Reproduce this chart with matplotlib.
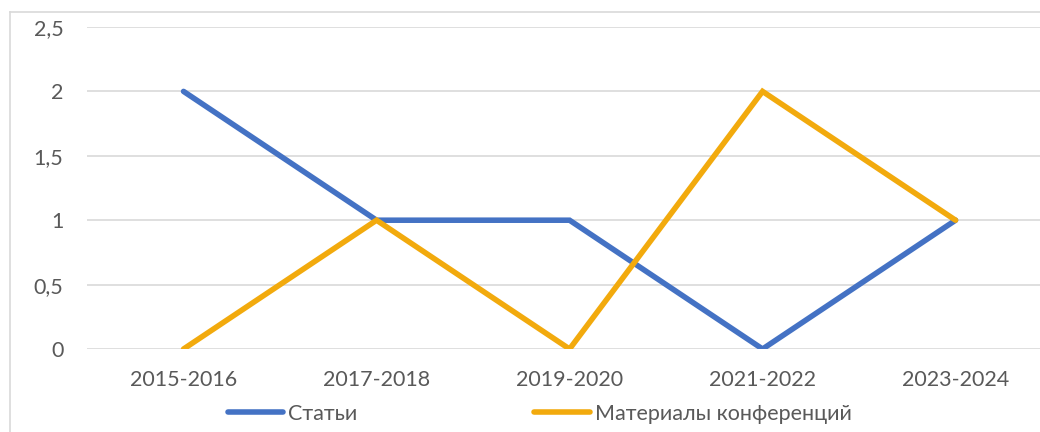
import numpy as np
import matplotlib
matplotlib.use('Agg')
import matplotlib.pyplot as plt
from matplotlib.lines import Line2D
from matplotlib.ticker import FuncFormatter

periods = ['2015-2016', '2017-2018', '2019-2020', '2021-2022', '2023-2024']
articles = [2, 1, 1, 0, 1]
conference = [0, 1, 0, 2, 1]
yticks = [0, 0.5, 1, 1.5, 2, 2.5]

plt.rcParams['font.family'] = ['Lato', 'DejaVu Sans']

fig = plt.figure(figsize=(10.4, 4.32), dpi=100)
ax = fig.add_axes([0.0837, 0.1921, 0.9279, 0.7454])

x = np.arange(len(periods))
ax.plot(x, articles, color='#4472C4', linewidth=4, label='Статьи',
        solid_capstyle='round', solid_joinstyle='miter', zorder=3)
ax.plot(x, conference, color='#F2AA0D', linewidth=4, label='Материалы конференций',
        solid_capstyle='round', solid_joinstyle='miter', zorder=3)

ax.set_xlim(-0.5, len(periods) - 0.5)
ax.set_ylim(0, 2.5)
ax.set_yticks(yticks)
ax.yaxis.set_major_formatter(FuncFormatter(lambda v, p: f'{v:g}'.replace('.', ',')))
ax.set_xticks(x)
ax.set_xticklabels(periods)
ax.grid(axis='y', color='#d9d9d9', linewidth=1.2)
ax.set_axisbelow(True)
for s in ax.spines.values():
    s.set_visible(False)
ax.tick_params(length=0, labelsize=15.5, colors='#595959')
ax.tick_params(axis='y', pad=17)
ax.tick_params(axis='x', pad=15)

# chart area border (left and top edges visible)
fig.add_artist(Line2D([10 / 1040, 10 / 1040], [0, 1 - 12 / 432], transform=fig.transFigure,
                      color='#d9d9d9', linewidth=1.2))
fig.add_artist(Line2D([10 / 1040, 1], [1 - 12 / 432, 1 - 12 / 432], transform=fig.transFigure,
                      color='#d9d9d9', linewidth=1.2))

leg = fig.legend(loc='center', bbox_to_anchor=(0.519, 0.042), ncol=2, frameon=False,
                 fontsize=15.5, handlelength=2.6, handletextpad=0.23, columnspacing=8.2,
                 labelcolor='#595959', borderpad=0)

fig.savefig('out.png', dpi=100)
